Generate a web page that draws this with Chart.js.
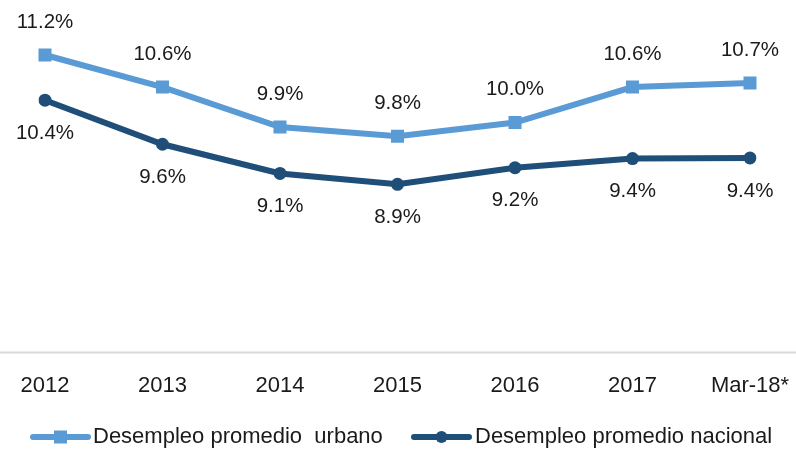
<!DOCTYPE html>
<html>
<head>
<meta charset="utf-8">
<script src="https://cdn.jsdelivr.net/npm/chart.js@4"></script>
<style>
html,body{margin:0;padding:0;background:#fff;}
#wrap{width:796px;height:449px;position:relative;}
</style>
</head>
<body>
<div id="wrap"><canvas id="c" width="796" height="449"></canvas></div>
<script>
const categories = ['2012','2013','2014','2015','2016','2017','Mar-18*'];
const urbano = [11.2, 10.64, 9.94, 9.78, 10.02, 10.64, 10.71];
const nacional = [10.41, 9.64, 9.13, 8.94, 9.23, 9.39, 9.40];
const seriesNames = ['Desempleo promedio  urbano', 'Desempleo promedio nacional'];
const colorUrbano = '#5B9BD5';
const colorNacional = '#1F4E79';

const baselinePlugin = {
  id: 'baseline',
  beforeDatasetsDraw(chart) {
    const ctx = chart.ctx;
    const y = chart.scales.y.getPixelForValue(chart.scales.y.min);
    ctx.save();
    ctx.strokeStyle = '#D9D9D9';
    ctx.lineWidth = 2;
    ctx.beginPath();
    ctx.moveTo(0, y);
    ctx.lineTo(chart.width, y);
    ctx.stroke();
    ctx.restore();
  }
};

const labelPlugin = {
  id: 'dataLabels',
  afterDatasetsDraw(chart) {
    const ctx = chart.ctx;
    ctx.save();
    ctx.font = '20.5px "Liberation Sans", Arial, sans-serif';
    ctx.fillStyle = '#1a1a1a';
    ctx.textAlign = 'center';
    ctx.textBaseline = 'middle';
    chart.data.datasets.forEach((ds, di) => {
      const meta = chart.getDatasetMeta(di);
      const dir = ds.labelPos === 'above' ? -1 : 1;
      meta.data.forEach((pt, i) => {
        const txt = ds.data[i].toFixed(1) + '%';
        ctx.fillText(txt, pt.x, pt.y + dir * 33);
      });
    });
    ctx.restore();
  }
};

const legendPlugin = {
  id: 'customLegend',
  afterDraw(chart) {
    const ctx = chart.ctx;
    const y = 437;
    const items = [
      {x0: 33, x1: 88, tx: 93, ds: chart.data.datasets[0]},
      {x0: 414, x1: 469, tx: 475, ds: chart.data.datasets[1]}
    ];
    ctx.save();
    items.forEach(it => {
      ctx.strokeStyle = it.ds.borderColor;
      ctx.lineWidth = 6;
      ctx.lineCap = 'round';
      ctx.beginPath();
      ctx.moveTo(it.x0, y);
      ctx.lineTo(it.x1, y);
      ctx.stroke();
      const cx = (it.x0 + it.x1) / 2;
      ctx.fillStyle = it.ds.borderColor;
      if (it.ds.pointStyle === 'rect') {
        ctx.fillRect(cx - 6.5, y - 6.5, 13, 13);
      } else {
        ctx.beginPath();
        ctx.arc(cx, y, 6, 0, Math.PI * 2);
        ctx.fill();
      }
      ctx.fillStyle = '#1a1a1a';
      ctx.font = '22px "Liberation Sans", Arial, sans-serif';
      ctx.textAlign = 'left';
      ctx.textBaseline = 'middle';
      ctx.fillText(it.ds.label, it.tx, y);
    });
    ctx.restore();
  }
};

new Chart(document.getElementById('c'), {
  type: 'line',
  data: {
    labels: categories,
    datasets: [
      {
        label: seriesNames[0],
        data: urbano,
        borderColor: colorUrbano,
        backgroundColor: colorUrbano,
        borderWidth: 6,
        pointStyle: 'rect',
        pointRadius: 9.2,
        pointHoverRadius: 9.2,
        pointBorderWidth: 0,
        tension: 0,
        labelPos: 'above'
      },
      {
        label: seriesNames[1],
        data: nacional,
        borderColor: colorNacional,
        backgroundColor: colorNacional,
        borderWidth: 6,
        pointStyle: 'circle',
        pointRadius: 6.5,
        pointHoverRadius: 6.5,
        pointBorderWidth: 0,
        tension: 0,
        labelPos: 'below'
      }
    ]
  },
  options: {
    responsive: false,
    animation: false,
    devicePixelRatio: 1,
    layout: { padding: { left: 45, right: 46, top: 7, bottom: 30 } },
    plugins: {
      legend: { display: false },
      tooltip: { enabled: false }
    },
    scales: {
      x: {
        offset: false,
        grid: { display: false, drawTicks: false },
        border: { display: false },
        afterFit(scale) { scale.paddingLeft = 0; scale.paddingRight = 0; },
        ticks: {
          padding: 20,
          color: '#1a1a1a',
          font: { size: 22, family: '"Liberation Sans", Arial, sans-serif' },
          maxRotation: 0,
          autoSkip: false
        }
      },
      y: {
        display: false,
        min: 6,
        max: 12
      }
    }
  },
  plugins: [baselinePlugin, labelPlugin, legendPlugin]
});
</script>
</body>
</html>
